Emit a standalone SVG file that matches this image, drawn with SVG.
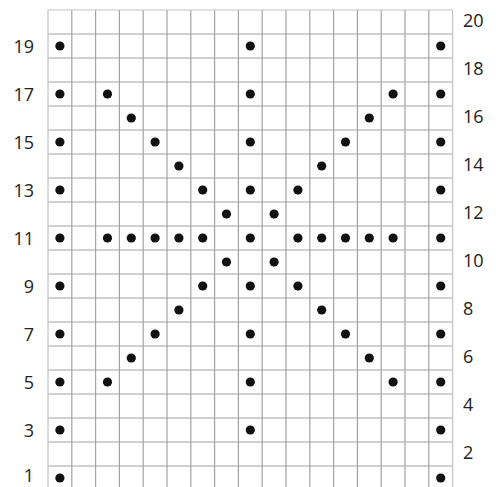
<svg xmlns="http://www.w3.org/2000/svg" width="496" height="487" viewBox="0 0 496 487">
<style>
.grid{fill:none;stroke:#a3a3a3;stroke-width:1.2}
.border{fill:none;stroke:#c4c4c4;stroke-width:1.2}
.lbl{font-family:"Open Sans","Liberation Sans",sans-serif;font-size:18px;fill:#222}
.l{text-anchor:end}
.d{fill:#111}
</style>
<rect width="496" height="487" fill="#fff"/>
<g id="grid">
<path class="grid" d="M71.8 10V490M95.6 10V490M119.4 10V490M143.2 10V490M167 10V490M190.8 10V490M214.6 10V490M238.4 10V490M262.2 10V490M286 10V490M309.8 10V490M333.6 10V490M357.4 10V490M381.2 10V490M405 10V490M428.8 10V490
M48 34H452.6M48 58H452.6M48 82H452.6M48 106H452.6M48 130H452.6M48 154H452.6M48 178H452.6M48 202H452.6M48 226H452.6M48 250H452.6M48 274H452.6M48 298H452.6M48 322H452.6M48 346H452.6M48 370H452.6M48 394H452.6M48 418H452.6M48 442H452.6M48 466H452.6"/>
<path class="border" d="M48 490V10H452.6V490"/>
</g>
<g id="labels-left" class="lbl l">
<text x="34" y="53">19</text>
<text x="34" y="101">17</text>
<text x="34" y="149">15</text>
<text x="34" y="197">13</text>
<text x="34" y="245">11</text>
<text x="34" y="293">9</text>
<text x="34" y="341">7</text>
<text x="34" y="389">5</text>
<text x="34" y="437">3</text>
<text x="34" y="482">1</text>
</g>
<g id="labels-right" class="lbl">
<text x="463" y="27">20</text>
<text x="463" y="75">18</text>
<text x="463" y="123">16</text>
<text x="463" y="171">14</text>
<text x="463" y="219">12</text>
<text x="463" y="267">10</text>
<text x="463" y="315">8</text>
<text x="463" y="363">6</text>
<text x="463" y="411">4</text>
<text x="463" y="459">2</text>
</g>
<g id="dots" class="d">
<circle cx="59.9" cy="46" r="4.6"/><circle cx="59.9" cy="94" r="4.6"/><circle cx="59.9" cy="142" r="4.6"/><circle cx="59.9" cy="190" r="4.6"/><circle cx="59.9" cy="238" r="4.6"/><circle cx="59.9" cy="286" r="4.6"/><circle cx="59.9" cy="334" r="4.6"/><circle cx="59.9" cy="382" r="4.6"/><circle cx="59.9" cy="430" r="4.6"/><circle cx="59.9" cy="478" r="4.6"/>
<circle cx="440.7" cy="46" r="4.6"/><circle cx="440.7" cy="94" r="4.6"/><circle cx="440.7" cy="142" r="4.6"/><circle cx="440.7" cy="190" r="4.6"/><circle cx="440.7" cy="238" r="4.6"/><circle cx="440.7" cy="286" r="4.6"/><circle cx="440.7" cy="334" r="4.6"/><circle cx="440.7" cy="382" r="4.6"/><circle cx="440.7" cy="430" r="4.6"/><circle cx="440.7" cy="478" r="4.6"/>
<circle cx="250.3" cy="46" r="4.6"/><circle cx="250.3" cy="94" r="4.6"/><circle cx="250.3" cy="142" r="4.6"/><circle cx="250.3" cy="190" r="4.6"/><circle cx="250.3" cy="238" r="4.6"/><circle cx="250.3" cy="286" r="4.6"/><circle cx="250.3" cy="334" r="4.6"/><circle cx="250.3" cy="382" r="4.6"/><circle cx="250.3" cy="430" r="4.6"/>
<circle cx="107.5" cy="94" r="4.6"/><circle cx="131.3" cy="118" r="4.6"/><circle cx="155.1" cy="142" r="4.6"/><circle cx="178.9" cy="166" r="4.6"/><circle cx="202.7" cy="190" r="4.6"/><circle cx="226.5" cy="214" r="4.6"/>
<circle cx="274.1" cy="214" r="4.6"/><circle cx="297.9" cy="190" r="4.6"/><circle cx="321.7" cy="166" r="4.6"/><circle cx="345.5" cy="142" r="4.6"/><circle cx="369.3" cy="118" r="4.6"/><circle cx="393.1" cy="94" r="4.6"/>
<circle cx="107.5" cy="238" r="4.6"/><circle cx="131.3" cy="238" r="4.6"/><circle cx="155.1" cy="238" r="4.6"/><circle cx="178.9" cy="238" r="4.6"/><circle cx="202.7" cy="238" r="4.6"/>
<circle cx="297.9" cy="238" r="4.6"/><circle cx="321.7" cy="238" r="4.6"/><circle cx="345.5" cy="238" r="4.6"/><circle cx="369.3" cy="238" r="4.6"/><circle cx="393.1" cy="238" r="4.6"/>
<circle cx="226.5" cy="262" r="4.6"/><circle cx="202.7" cy="286" r="4.6"/><circle cx="178.9" cy="310" r="4.6"/><circle cx="155.1" cy="334" r="4.6"/><circle cx="131.3" cy="358" r="4.6"/><circle cx="107.5" cy="382" r="4.6"/>
<circle cx="274.1" cy="262" r="4.6"/><circle cx="297.9" cy="286" r="4.6"/><circle cx="321.7" cy="310" r="4.6"/><circle cx="345.5" cy="334" r="4.6"/><circle cx="369.3" cy="358" r="4.6"/><circle cx="393.1" cy="382" r="4.6"/>
</g>
</svg>
